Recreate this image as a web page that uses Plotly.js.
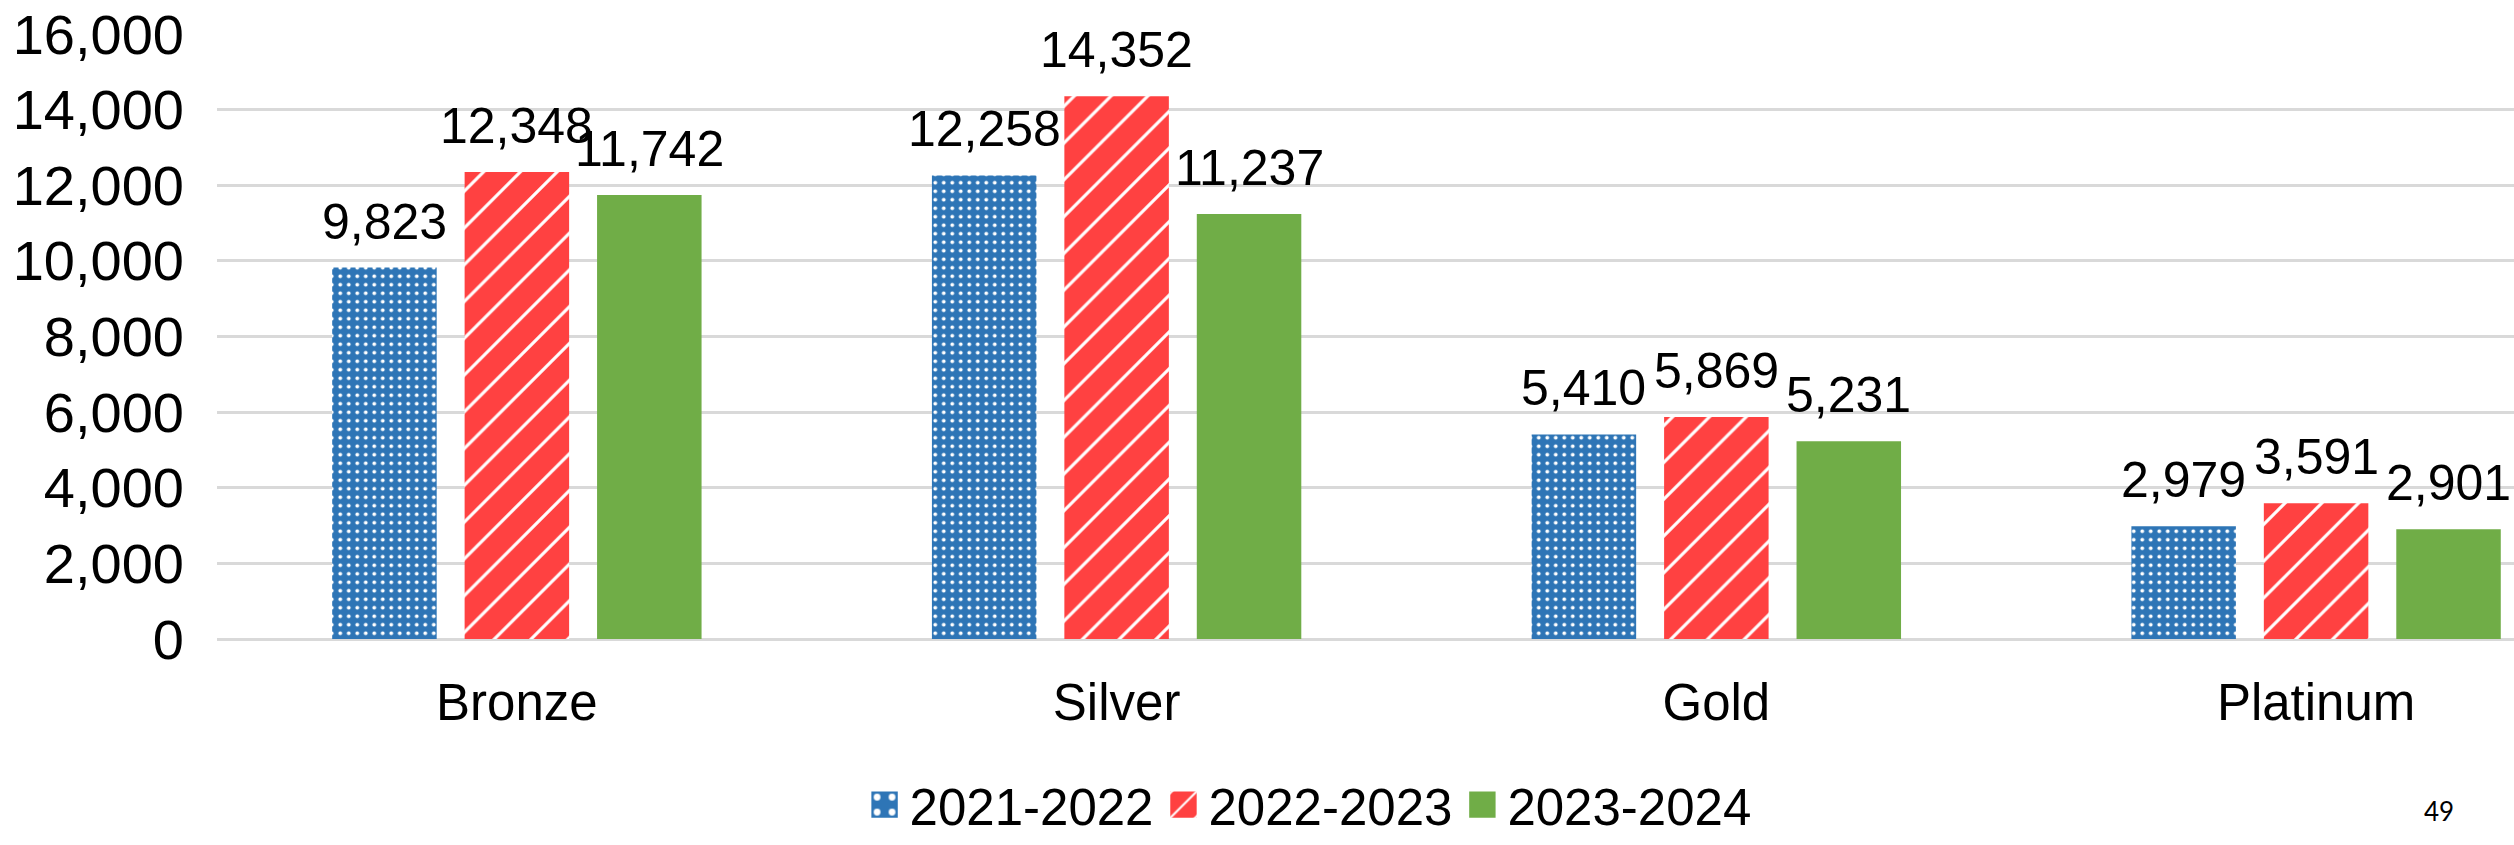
<!DOCTYPE html>
<html>
<head>
<meta charset="utf-8">
<script src="https://cdn.plot.ly/plotly-3.0.1.min.js"></script>
<style>
  html, body { margin: 0; padding: 0; background: #ffffff; }
  #chart { width: 2514px; height: 845px; }
</style>
</head>
<body>
<div id="chart"></div>
<script>
// ---- data ----
const categories = ['Bronze', 'Silver', 'Gold', 'Platinum'];
const seriesNames = ['2021-2022', '2022-2023', '2023-2024'];
const values2122 = [9823, 12258, 5410, 2979];
const values2223 = [12348, 14352, 5869, 3591];
const values2324 = [11742, 11237, 5231, 2901];
const yTickVals = [0, 2000, 4000, 6000, 8000, 10000, 12000, 14000, 16000];
const pageNumber = '49';

// ---- style ----
const FONT = '"Liberation Sans", Arial, sans-serif';
const BLUE = '#2E75B6';
const RED = '#FF4141';
const GREEN = '#70AD47';
const BARGAP = 0.3375;
const GROUPGAP = 0.211;

const seriesValues = [values2122, values2223, values2324];
const markers = [
  { color: BLUE, line: { width: 0 },
    pattern: { shape: '.', fgcolor: '#ffffff', bgcolor: BLUE, size: 8.5, solidity: 0.16, fillmode: 'replace' } },
  { color: RED, line: { width: 0 },
    pattern: { shape: '/', fgcolor: '#ffffff', bgcolor: RED, size: 26, solidity: 0.12, fillmode: 'replace' } },
  { color: GREEN, line: { width: 0 } }
];

const traces = seriesValues.map((vals, k) => ({
  type: 'bar',
  name: seriesNames[k],
  x: categories,
  y: vals,
  marker: markers[k],
  hoverinfo: 'x+y+name'
}));

// data labels above bars, positioned via the axis scales
const slot = (1 - BARGAP) / 3;
const annotations = [];
seriesValues.forEach((vals, k) => {
  vals.forEach((v, i) => {
    annotations.push({
      x: i + (k - 1) * slot,
      y: v,
      xref: 'x', yref: 'y',
      text: v.toLocaleString('en-US'),
      showarrow: false,
      yanchor: 'bottom',
      yshift: 16,
      font: { family: FONT, size: 50, color: '#000000' }
    });
  });
});
annotations.push({
  xref: 'paper', yref: 'paper',
  x: 0.9675, y: -0.285,
  text: pageNumber,
  showarrow: false,
  xanchor: 'center', yanchor: 'middle',
  font: { family: 'Lato, "Open Sans", sans-serif', size: 26, color: '#000000' }
});

const layout = {
  width: 2514,
  height: 845,
  margin: { l: 217, r: 0, t: 34, b: 197, pad: 0 },
  paper_bgcolor: '#ffffff',
  plot_bgcolor: '#ffffff',
  font: { family: FONT, size: 50, color: '#000000' },
  barmode: 'group',
  bargap: BARGAP,
  bargroupgap: GROUPGAP,
  showlegend: true,
  legend: {
    orientation: 'h',
    x: 0.475, xanchor: 'center',
    y: -0.275, yanchor: 'middle',
    font: { family: FONT, size: 51, color: '#000000' },
    traceorder: 'normal',
    itemwidth: 40,
    bgcolor: 'rgba(0,0,0,0)'
  },
  xaxis: {
    type: 'category',
    range: [-0.5, 3.33],
    showgrid: false,
    zeroline: false,
    showline: false,
    ticks: '',
    ticklabelstandoff: 29,
    tickfont: { family: FONT, size: 51, color: '#000000' },
    fixedrange: true
  },
  yaxis: {
    range: [0, 16000],
    tickvals: yTickVals,
    ticktext: yTickVals.map(v => v.toLocaleString('en-US')),
    showgrid: true,
    gridcolor: '#D9D9D9',
    gridwidth: 3,
    zeroline: true,
    zerolinecolor: '#D9D9D9',
    zerolinewidth: 3,
    showline: false,
    ticks: '',
    ticklabelstandoff: 32,
    tickfont: { family: FONT, size: 56, color: '#000000' },
    fixedrange: true
  },
  annotations: annotations
};

Plotly.newPlot('chart', traces, layout, { displayModeBar: false, staticPlot: true }).then(gd => {
  // enlarge the legend swatches to match the reference
  gd.querySelectorAll('.legend .legendpoints path').forEach(p => {
    const t = p.getAttribute('transform') || '';
    p.setAttribute('transform', t + ' scale(2.2)');
  });
});
</script>
</body>
</html>
